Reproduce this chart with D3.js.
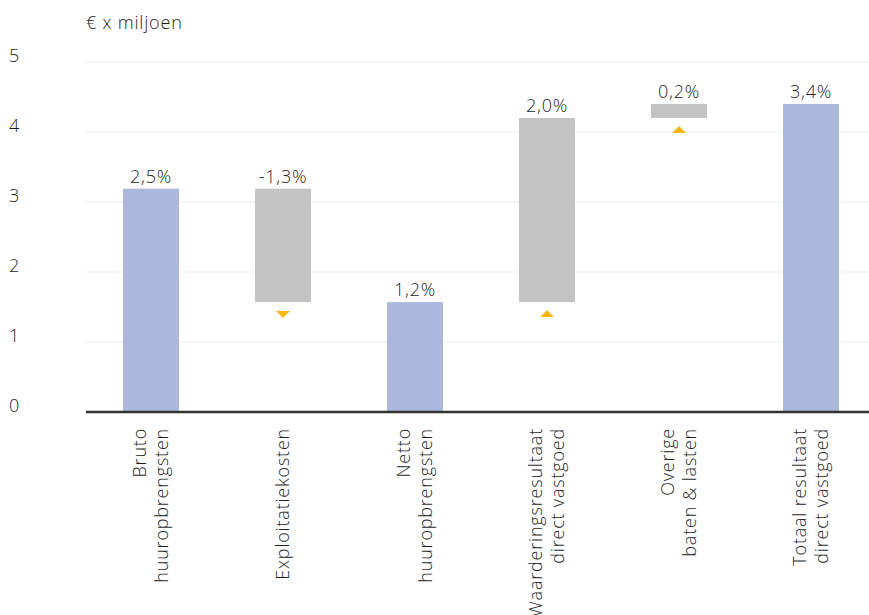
<!DOCTYPE html>
<html>
<head>
<meta charset="utf-8">
<script src="https://cdn.jsdelivr.net/npm/d3@7"></script>
<style>
  body { margin: 0; background: #fff; }
  svg text { font-family: "Open Sans", sans-serif; font-weight: 300; fill: #1e1e1e; letter-spacing: 0.8px; }
</style>
</head>
<body>
<svg id="chart" width="869" height="615"></svg>
<script>
// waterfall data (€ x miljoen)
const categories = [
    ["Bruto", "huuropbrengsten"],
    ["Exploitatiekosten"],
    ["Netto", "huuropbrengsten"],
    ["Waarderingsresultaat", "direct vastgoed"],
    ["Overige", "baten & lasten"],
    ["Totaal resultaat", "direct vastgoed"]
];
const barStart = [0, 3.19, 0, 1.57, 4.2, 0];
const barEnd = [3.19, 1.57, 1.57, 4.2, 4.4, 4.4];
const barType = ["total", "step", "total", "step", "step", "total"];
const pctLabels = ["2,5%", "-1,3%", "1,2%", "2,0%", "0,2%", "3,4%"];
const yTicks = [0, 1, 2, 3, 4, 5];

const svg = d3.select("#chart");

const x = d3.scaleBand()
    .domain(d3.range(categories.length))
    .range([85, 877])
    .paddingInner(0.576)
    .paddingOuter(0.288);

const y = d3.scaleLinear()
    .domain([0, 5])
    .range([412, 62]);

// gridlines
svg.append("g")
    .selectAll("line")
    .data(yTicks.filter(d => d > 0))
    .enter()
    .append("line")
    .attr("x1", 86)
    .attr("x2", 869)
    .attr("y1", d => y(d))
    .attr("y2", d => y(d))
    .attr("stroke", "#ebebeb")
    .attr("stroke-width", 1);

// y tick labels
svg.append("g")
    .selectAll("text")
    .data(yTicks)
    .enter()
    .append("text")
    .attr("x", 9)
    .attr("y", d => y(d) - 6)
    .attr("dy", "0.35em")
    .style("font-size", "18px")
    .text(d => d);

svg.append("text")
    .attr("x", 86)
    .attr("y", 29)
    .style("font-size", "18px")
    .text("€ x miljoen");

const bars = d3.range(categories.length);

svg.append("g")
    .selectAll("rect")
    .data(bars)
    .enter()
    .append("rect")
    .attr("x", i => x(i))
    .attr("y", i => y(Math.max(barStart[i], barEnd[i])))
    .attr("width", x.bandwidth())
    .attr("height", i => Math.abs(y(barStart[i]) - y(barEnd[i])))
    .attr("fill", i => barType[i] === "total" ? "#abb7dd" : "#c4c4c4");

// value labels
svg.append("g")
    .selectAll("text")
    .data(bars)
    .enter()
    .append("text")
    .attr("x", i => x(i) + x.bandwidth() / 2)
    .attr("y", i => y(Math.max(barStart[i], barEnd[i])) - 6)
    .attr("text-anchor", "middle")
    .style("font-size", "18px")
    .text(i => pctLabels[i]);

// direction markers under the step bars
svg.append("g")
    .selectAll("path")
    .data(bars.filter(i => barType[i] === "step"))
    .enter()
    .append("path")
    .attr("transform", i => {
        const cx = x(i) + x.bandwidth() / 2;
        const cy = y(Math.min(barStart[i], barEnd[i])) + 12;
        return `translate(${cx},${cy})`;
    })
    .attr("d", i => barEnd[i] < barStart[i]
        ? "M-7,-3L7,-3L0,4Z"
        : "M-7,3L7,3L0,-4Z")
    .attr("fill", "#fbb615");

// zero line
svg.append("line")
    .attr("x1", 86)
    .attr("x2", 869)
    .attr("y1", y(0))
    .attr("y2", y(0))
    .attr("stroke", "#333")
    .attr("stroke-width", 2.5);

// category labels, rotated
const catLabels = svg.append("g")
    .selectAll("text")
    .data(bars)
    .enter()
    .append("text")
    .attr("transform", i => `translate(${x(i) + x.bandwidth() / 2},428) rotate(-90)`)
    .attr("text-anchor", "end")
    .style("font-size", "18px");

catLabels.each(function(i) {
    const lines = categories[i];
    const off = -(lines.length - 1) * 11;
    lines.forEach((t, k) => {
        d3.select(this).append("tspan")
            .attr("x", 0)
            .attr("y", off + k * 22)
            .attr("dy", "0.35em")
            .text(t);
    });
});
</script>
</body>
</html>
